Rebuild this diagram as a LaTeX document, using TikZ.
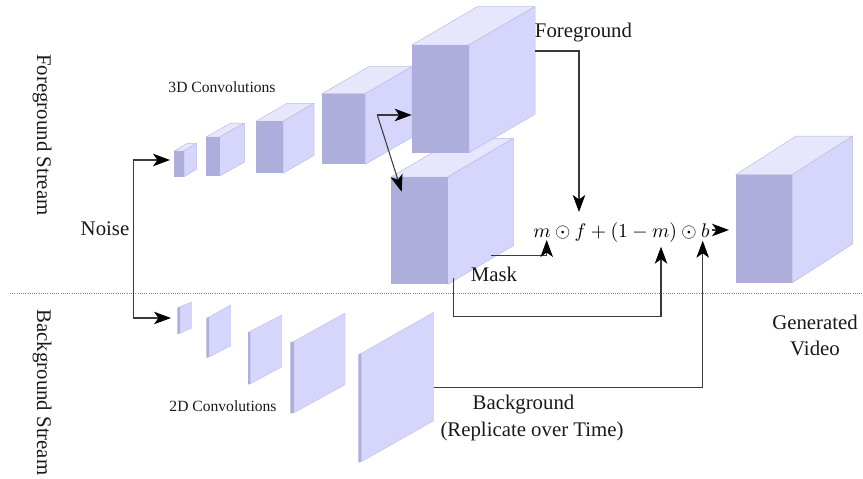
\documentclass[tikz,border=0pt]{standalone}
\usepackage{fontspec}
\setmainfont{Liberation Serif}
\usetikzlibrary{arrows.meta}
\definecolor{frontc}{HTML}{AEAEDC}
\definecolor{sidec}{HTML}{D6D6FC}
\definecolor{topc}{HTML}{E6E6FD}
\definecolor{edgec}{HTML}{BDBDE2}
\definecolor{linec}{HTML}{3A3A3A}
\definecolor{dotc}{HTML}{808080}
\newcommand{\cuboid}[7]{%
  \fill[topc,draw=edgec,line width=.5pt,line join=round] (#2,#3) -- ++(#6,-#7) -- ++({#4-#2},0) -- (#4,#3) -- cycle;
  \fill[sidec,draw=edgec,line width=.5pt,line join=round] (#4,#3) -- ++(#6,-#7) -- ++(0,{#5-#3}) -- (#4,#5) -- cycle;
  \fill[frontc] (#2,#3) rectangle (#4,#5);
  \coordinate (#1) at (#2,#3);
}
\newcommand{\planeface}[8]{%
  \fill[frontc] (#2,#5) -- (#3,{#5-1}) -- (#3,{#6-1}) -- (#2,#6) -- cycle;
  \fill[sidec,draw=edgec,line width=.4pt,line join=round] (#3,{#5-1}) -- (#4,#7) -- (#4,#8) -- (#3,{#6-1}) -- cycle;
  \coordinate (#1) at (#4,#7);
}
\tikzset{
  label19/.style={font=\fontsize{20.8}{24}\selectfont,inner sep=0pt,text=black!90},
  label15/.style={font=\fontsize{15.6}{18}\selectfont,inner sep=0pt,text=black!90},
  conn/.style={draw=linec,line width=1.05pt,line join=miter,
    -{Stealth[black,length=17pt,width=12.5pt,inset=4.5pt]}},
}
\begin{document}
\begin{tikzpicture}[x=1pt,y=-1pt]
\useasboundingbox (0,0) rectangle (863,479);
% dotted separator
\coordinate (sepL) at (10,293);
\coordinate (sepR) at (863,293);
\draw[dotc,line width=.8pt,dash pattern=on 1pt off 1.2pt] (sepL) -- (sepR);
% foreground stream
\cuboid{fa}{174.3}{151}{184}{176.7}{12.7}{7.7}
\cuboid{fb}{206}{137}{219.7}{176}{25}{14}
\cuboid{fc}{256}{121.3}{283}{173.3}{31}{18}
\cuboid{fd}{322}{93.7}{365.3}{164.3}{46.7}{27}
\cuboid{mk}{391}{177}{447.7}{284.3}{65.7}{38.7}
\cuboid{fe}{411.7}{45}{469}{152.7}{66}{38.5}
\cuboid{gv}{735.7}{174.7}{792.3}{282.7}{60.4}{38.7}
% background stream
\planeface{pa}{177.3}{180}{191.7}{307.7}{334.3}{302}{328}
\planeface{pb}{206.3}{209}{230.7}{318}{358}{305}{345.7}
\planeface{pc}{248}{250.3}{281.7}{332.3}{384.7}{315}{367}
\planeface{pd}{290.3}{294}{345}{342.3}{413.7}{313}{384.7}
\planeface{pe}{358.3}{361.3}{433.7}{354.3}{462.7}{312.3}{420.7}
% texts
\node[label19,rotate=-90,anchor=base] (fgs) at (37,135) {Foreground Stream};
\node[label19,rotate=-90,anchor=base] (bgs) at (37,392.5) {Background Stream};
\node[label19,anchor=base] (noise) at (105,235) {Noise};
\node[label15,anchor=base] (conv3) at (222,92) {3D Convolutions};
\node[label15,anchor=base] (conv2) at (223,411) {2D Convolutions};
\node[label19,anchor=base] (fgl) at (583.5,37) {Foreground};
\node[label19,anchor=base] (mskl) at (494,281) {Mask};
\node[label19,anchor=base] (bgl) at (523.5,409) {Background};
\node[label19,anchor=base] (repl) at (532,436) {(Replicate over Time)};
\node[label19,anchor=base] (genl) at (815,329) {Generated};
\node[label19,anchor=base] (vidl) at (815,355) {Video};
\node[scale=1.97,inner sep=0pt,anchor=base] (eq) at (621.5,237) {$m\odot f+(1-m)\odot b$};
% connector ends
\coordinate (nj) at (133.3,239);
\coordinate (nt) at (170,160);
\coordinate (nb) at (171,318);
\coordinate (fdout) at (377.3,115);
\coordinate (feIn) at (411.7,115);
\coordinate (mkIn) at (401.7,191.7);
\coordinate (feOut) at (535,51);
\coordinate (eqf) at (579,212);
\coordinate (mkOutA) at (490.7,255.7);
\coordinate (eqm) at (546.7,240);
\coordinate (mkOutB) at (453.3,278.3);
\coordinate (eqmm) at (661,246.7);
\coordinate (peOut) at (434,387.7);
\coordinate (eqb) at (702.7,240.7);
\coordinate (outA) at (712,230);
\coordinate (outB) at (729,230);
% connectors
\draw[conn] (nj) |- (nt);
\draw[conn] (nj) |- (nb);
\draw[conn] (fdout) -- (feIn);
\draw[conn] (fdout) -- (mkIn);
\draw[conn] (feOut) -| (eqf);
\draw[conn] (mkOutA) -| (eqm);
\draw[conn] (mkOutB) |- (453.3,316.7) -| (eqmm);
\draw[conn] (peOut) -| (eqb);
\draw[conn] (outA) -- (outB);
\end{tikzpicture}
\end{document}
